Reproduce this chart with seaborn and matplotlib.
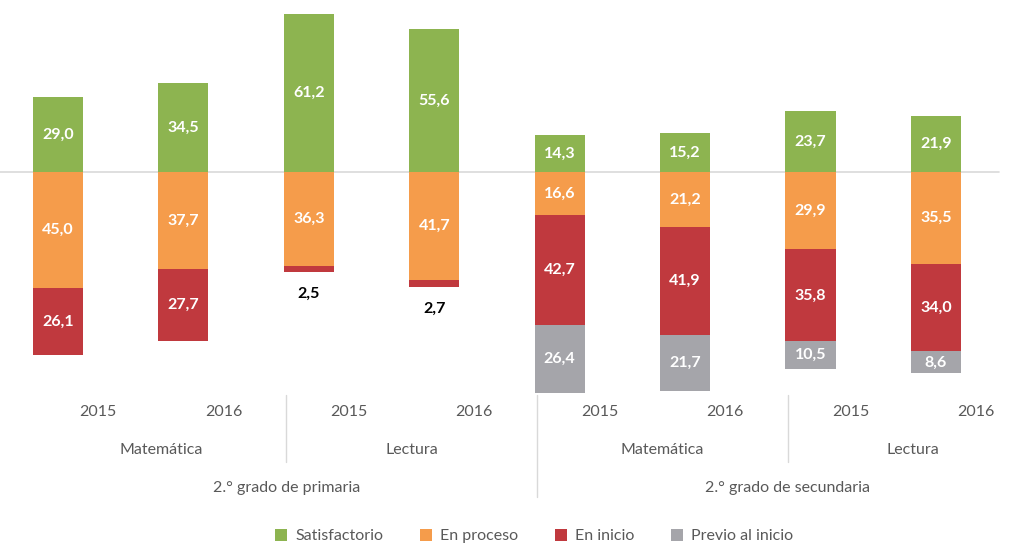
import numpy as np
import pandas as pd
import matplotlib
matplotlib.use('Agg')
import matplotlib.pyplot as plt
import seaborn as sns
from matplotlib.patches import Patch

# --------------------------
# Data
# --------------------------
grades = ['2.° grado de primaria', '2.° grado de secundaria']
subjects = ['Matemática', 'Lectura', 'Matemática', 'Lectura']
years = ['2015', '2016', '2015', '2016', '2015', '2016', '2015', '2016']
satisfactorio = [29.0, 34.5, 61.2, 55.6, 14.3, 15.2, 23.7, 21.9]
en_proceso = [45.0, 37.7, 36.3, 41.7, 16.6, 21.2, 29.9, 35.5]
en_inicio = [26.1, 27.7, 2.5, 2.7, 42.7, 41.9, 35.8, 34.0]
previo = [0.0, 0.0, 0.0, 0.0, 26.4, 21.7, 10.5, 8.6]

levels = ['Satisfactorio', 'En proceso', 'En inicio', 'Previo al inicio']
colors = ['#8DB450', '#F59C4B', '#C0393E', '#A5A5AA']
text_gray = '#595959'

# --------------------------
# Style
# --------------------------
sns.set_theme(style='white')
plt.rcParams['font.family'] = ['Lato', 'DejaVu Sans']

keys = [f'c{i}' for i in range(len(years))]
df = pd.DataFrame({
    'key': keys,
    'sat': satisfactorio,
    'proc': en_proceso,
    'ini': en_inicio,
    'prev': previo,
})
# cumulative extents below the baseline (drawn back to front)
df['neg_proc'] = -df['proc']
df['neg_ini'] = -(df['proc'] + df['ini'])
df['neg_prev'] = -(df['proc'] + df['ini'] + df['prev'])

fig = plt.figure(figsize=(10.27, 5.46), dpi=100)
ax = fig.add_axes([0, 0, 1, 1])

bar_w = 0.4
for col, color in [('neg_prev', colors[3]), ('neg_ini', colors[2]),
                   ('neg_proc', colors[1]), ('sat', colors[0])]:
    sns.barplot(data=df, x='key', y=col, order=keys, color=color,
                width=bar_w, linewidth=0, saturation=1, ax=ax)

# Baseline
ax.plot([-0.46, 7.5], [0, 0], color='#D9D9D9', lw=1.2, zorder=0.5)

# --------------------------
# Value labels
# --------------------------
def fmt(v):
    return f'{v:.1f}'.replace('.', ',')

lab_fs = 11.5
for i in range(len(keys)):
    s, p, r, g = satisfactorio[i], en_proceso[i], en_inicio[i], previo[i]
    ax.text(i, s / 2, fmt(s), ha='center', va='center', color='white',
            fontsize=lab_fs, fontweight='bold')
    ax.text(i, -p / 2, fmt(p), ha='center', va='center', color='white',
            fontsize=lab_fs, fontweight='bold')
    if r < 5:
        ax.text(i, -(p + r) - 8.5, fmt(r), ha='center', va='center',
                color='black', fontsize=lab_fs, fontweight='bold')
    else:
        ax.text(i, -(p + r / 2), fmt(r), ha='center', va='center',
                color='white', fontsize=lab_fs, fontweight='bold')
    if g > 0:
        ax.text(i, -(p + r + g / 2), fmt(g), ha='center', va='center',
                color='white', fontsize=lab_fs, fontweight='bold')

# --------------------------
# Multi-level category axis
# --------------------------
off = 0.32
y_year, y_subj, y_grade = -93.0, -107.8, -122.5
for i, yr in enumerate(years):
    ax.text(i + off, y_year, yr, ha='center', va='center',
            color=text_gray, fontsize=11.5)
for j, subj in enumerate(subjects):
    ax.text(2 * j + 0.5 + off, y_subj, subj, ha='center', va='center',
            color=text_gray, fontsize=11.5)
for k, gr in enumerate(grades):
    ax.text(4 * k + 1.5 + off, y_grade, gr, ha='center', va='center',
            color=text_gray, fontsize=11.5)

sep_color = '#D9D9D9'
ax.plot([1.5 + off] * 2, [-86.4, -112.4], color=sep_color, lw=1)
ax.plot([5.5 + off] * 2, [-86.4, -112.4], color=sep_color, lw=1)
ax.plot([3.5 + off] * 2, [-86.4, -126.0], color=sep_color, lw=1)

ax.set_xlim(-0.4625, 7.727)
ax.set_ylim(-145.0, 66.7)
ax.axis('off')

# Legend
handles = [Patch(facecolor=c, edgecolor='none', label=l) for c, l in zip(colors, levels)]
fig.legend(handles=handles, loc='center', bbox_to_anchor=(0.52, 0.018), ncol=4,
           frameon=False, fontsize=11.5, handlelength=0.75, handleheight=0.75,
           handletextpad=0.5, columnspacing=2.3, labelcolor=text_gray)

fig.savefig('out.png', dpi=100, facecolor='white')
plt.close(fig)
